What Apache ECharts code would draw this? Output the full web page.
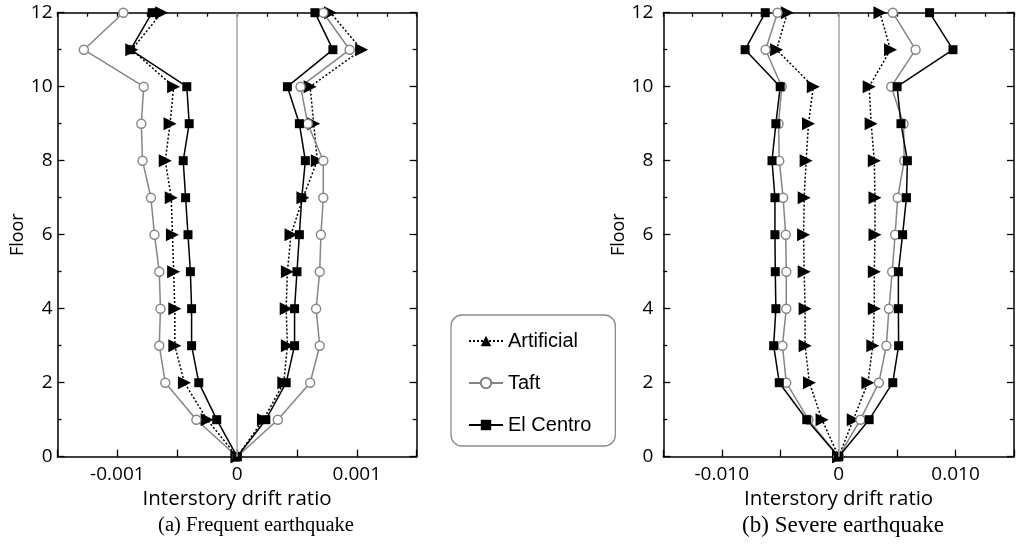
<!DOCTYPE html>
<html>
<head>
<meta charset="utf-8">
<script src="https://cdn.jsdelivr.net/npm/echarts@6/dist/echarts.min.js"></script>
<style>
  html, body { margin: 0; padding: 0; background: #fff; }
  #chart { width: 1017px; height: 552px; }
</style>
</head>
<body>
<div id="chart"></div>
<script>
// floors 0..12, drift ratios
var floors = [0, 1, 2, 3, 4, 5, 6, 7, 8, 9, 10, 11, 12]

// (a) frequent earthquake
var artA_neg = [0, -0.00025, -0.00044, -0.00052, -0.00052, -0.00053, -0.00054, -0.00055, -0.0006, -0.00056, -0.00053, -0.00088, -0.00063]
var artA_pos = [0, 0.00022, 0.00039, 0.00042, 0.00041, 0.00042, 0.00045, 0.00055, 0.00067, 0.00064, 0.00061, 0.00104, 0.00078]
var taftA_neg = [0, -0.00034, -0.0006, -0.00065, -0.00064, -0.00065, -0.00069, -0.00072, -0.00079, -0.0008, -0.00078, -0.00128, -0.00095]
var taftA_pos = [0, 0.00034, 0.00061, 0.00069, 0.00066, 0.00069, 0.0007, 0.00072, 0.00072, 0.00059, 0.00053, 0.00094, 0.00072]
var elcA_neg = [0, -0.00017, -0.00032, -0.00038, -0.00038, -0.00039, -0.00041, -0.00043, -0.00045, -0.0004, -0.00042, -0.00089, -0.00071]
var elcA_pos = [0, 0.00024, 0.00041, 0.00048, 0.00048, 0.0005, 0.00052, 0.00054, 0.00057, 0.00052, 0.00042, 0.0008, 0.00065]

// (b) severe earthquake
var artB_neg = [0, -0.00142, -0.0025, -0.00287, -0.00287, -0.00295, -0.003, -0.00295, -0.00278, -0.00258, -0.00217, -0.00531, -0.00439]
var artB_pos = [0, 0.00125, 0.0025, 0.00292, 0.00305, 0.00305, 0.00311, 0.00311, 0.00305, 0.00278, 0.00261, 0.00444, 0.00353]
var taftB_neg = [0, -0.00258, -0.00448, -0.00481, -0.00448, -0.00448, -0.00453, -0.00475, -0.00508, -0.00514, -0.00487, -0.00625, -0.00523]
var taftB_pos = [0, 0.00186, 0.00344, 0.00408, 0.0043, 0.00458, 0.00483, 0.00505, 0.00561, 0.00555, 0.0045, 0.00658, 0.00463]
var elcB_neg = [0, -0.00273, -0.00508, -0.00556, -0.00537, -0.00542, -0.00545, -0.00545, -0.0057, -0.00537, -0.005, -0.008, -0.00628]
var elcB_pos = [0, 0.00261, 0.00463, 0.00513, 0.00511, 0.00511, 0.00547, 0.0058, 0.00588, 0.00533, 0.005, 0.00978, 0.00778]

// tick labels shown on the bottom axes
var tickValsA = [-0.001, 0, 0.001]
var tickTextA = ['-0.001', '0', '0.001']
var tickValsB = [-0.01, 0, 0.01]
var tickTextB = ['-0.010', '0', '0.010']

var legendNames = ['Artificial', 'Taft', 'El Centro']
var captions = ['(a) Frequent earthquake', '(b) Severe earthquake']

var sansFont = 'Open Sans'

var styles = {
  'Artificial': {
    symbol: 'triangle', symbolSize: 13, symbolRotate: -90,
    itemStyle: { color: '#000' },
    lineStyle: { color: '#000', width: 1.5, type: [2, 2] }
  },
  'Taft': {
    symbol: 'circle', symbolSize: 9, symbolRotate: 0,
    itemStyle: { color: '#fff', borderColor: '#858585', borderWidth: 1.4 },
    lineStyle: { color: '#858585', width: 1.5, type: 'solid' }
  },
  'El Centro': {
    symbol: 'rect', symbolSize: 9, symbolRotate: 0,
    itemStyle: { color: '#000' },
    lineStyle: { color: '#000', width: 1.5, type: 'solid' }
  }
}

function pairs (xs) {
  return xs.map(function (x, i) { return [x, floors[i]] })
}

function makeSeries (name, xs, panel) {
  var st = styles[name]
  return {
    name: name,
    type: 'line',
    xAxisIndex: panel * 2,
    yAxisIndex: panel * 2,
    data: pairs(xs),
    symbol: st.symbol,
    symbolSize: st.symbolSize,
    symbolRotate: st.symbolRotate,
    showAllSymbol: true,
    clip: false,
    itemStyle: st.itemStyle,
    lineStyle: st.lineStyle,
    emphasis: { disabled: true },
    animation: false
  }
}

function centerLine (panel) {
  return {
    type: 'line',
    xAxisIndex: panel * 2,
    yAxisIndex: panel * 2,
    data: [],
    silent: true,
    markLine: {
      silent: true,
      symbol: 'none',
      label: { show: false },
      lineStyle: { color: '#a6a6a6', width: 1.5, type: 'solid' },
      data: [{ xAxis: 0 }]
    }
  }
}

function labelFor (vals, texts) {
  return function (v) {
    for (var i = 0; i < vals.length; i++) {
      if (Math.abs(v - vals[i]) < Math.abs(vals[2]) * 1e-6) return texts[i]
    }
    return ''
  }
}

var axisLine = { show: true, onZero: false, lineStyle: { color: '#000', width: 1.5 } }

function xAxes (panel, lim, step, vals, texts) {
  return [
    {
      type: 'value', gridIndex: panel, position: 'bottom',
      min: -lim, max: lim, interval: step,
      axisLine: axisLine,
      axisTick: { show: true, inside: true, length: 7, lineStyle: { color: '#000', width: 1.3 } },
      axisLabel: { show: true, formatter: labelFor(vals, texts), margin: 8, color: '#000', fontSize: 19, fontFamily: sansFont, showMinLabel: true, showMaxLabel: true },
      splitLine: { show: false },
      name: 'Interstory drift ratio', nameLocation: 'middle', nameGap: 31,
      nameTextStyle: { color: '#000', fontSize: 20.5, fontFamily: sansFont }
    },
    {
      type: 'value', gridIndex: panel, position: 'top',
      min: -lim, max: lim, interval: step,
      axisLine: axisLine,
      axisTick: { show: true, inside: true, length: 4, lineStyle: { color: '#000', width: 1.3 } },
      minorTick: { show: true, splitNumber: 2, length: 4, lineStyle: { color: '#000', width: 1.3 } },
      axisLabel: { show: false },
      splitLine: { show: false }
    }
  ]
}

function yAxes (panel, gap) {
  return [
    {
      type: 'value', gridIndex: panel, position: 'left',
      min: 0, max: 12, interval: 2,
      axisLine: axisLine,
      axisTick: { show: true, inside: true, length: 7, lineStyle: { color: '#000', width: 1.3 } },
      minorTick: { show: true, splitNumber: 2, length: 4, lineStyle: { color: '#000', width: 1.3 } },
      axisLabel: { show: true, margin: panel === 0 ? 5 : 10, color: '#000', fontSize: 19, fontFamily: sansFont },
      splitLine: { show: false },
      name: 'Floor', nameLocation: 'middle', nameGap: gap,
      nameTextStyle: { color: '#000', fontSize: 18, fontFamily: sansFont }
    },
    {
      type: 'value', gridIndex: panel, position: 'right',
      min: 0, max: 12, interval: 2,
      axisLine: axisLine,
      axisTick: { show: true, inside: true, length: 7, lineStyle: { color: '#000', width: 1.3 } },
      minorTick: { show: true, splitNumber: 2, length: 4, lineStyle: { color: '#000', width: 1.3 } },
      axisLabel: { show: false },
      splitLine: { show: false }
    }
  ]
}

var chart = echarts.init(document.getElementById('chart'), null, { renderer: 'canvas' })

var option = {
  animation: false,
  backgroundColor: '#fff',
  grid: [
    { left: 57.5, right: 600.3, top: 12.7, bottom: 95.3 },
    { left: 663.3, right: -5.7, top: 12.7, bottom: 95.3 }
  ],
  xAxis: xAxes(0, 0.0015, 0.0005, tickValsA, tickTextA).concat(xAxes(1, 0.015, 0.005, tickValsB, tickTextB)),
  yAxis: yAxes(0, 30).concat(yAxes(1, 32)),
  legend: {
    data: legendNames,
    orient: 'vertical',
    left: 451,
    top: 315,
    padding: [16, 24, 11, 17],
    itemGap: 22,
    itemWidth: 34,
    itemHeight: 13,
    symbolRotate: 0,
    borderColor: '#8c8c8c',
    borderWidth: 1.3,
    borderRadius: 11,
    backgroundColor: '#fff',
    selectedMode: false,
    textStyle: { color: '#000', fontSize: 20, fontFamily: 'Liberation Sans' }
  },
  graphic: [
    { type: 'text', x: 256, y: 526, style: { text: captions[0], fill: '#000', font: '20.5px "Liberation Serif"', textAlign: 'center', textVerticalAlign: 'middle' } },
    { type: 'text', x: 843, y: 526, style: { text: captions[1], fill: '#000', font: '23px "Liberation Serif"', textAlign: 'center', textVerticalAlign: 'middle' } }
  ],
  series: [
    centerLine(0),
    makeSeries('Artificial', artA_neg, 0),
    makeSeries('Artificial', artA_pos, 0),
    makeSeries('Taft', taftA_neg, 0),
    makeSeries('Taft', taftA_pos, 0),
    makeSeries('El Centro', elcA_neg, 0),
    makeSeries('El Centro', elcA_pos, 0),
    centerLine(1),
    makeSeries('Artificial', artB_neg, 1),
    makeSeries('Artificial', artB_pos, 1),
    makeSeries('Taft', taftB_neg, 1),
    makeSeries('Taft', taftB_pos, 1),
    makeSeries('El Centro', elcB_neg, 1),
    makeSeries('El Centro', elcB_pos, 1)
  ]
}

chart.setOption(option)
</script>
</body>
</html>
